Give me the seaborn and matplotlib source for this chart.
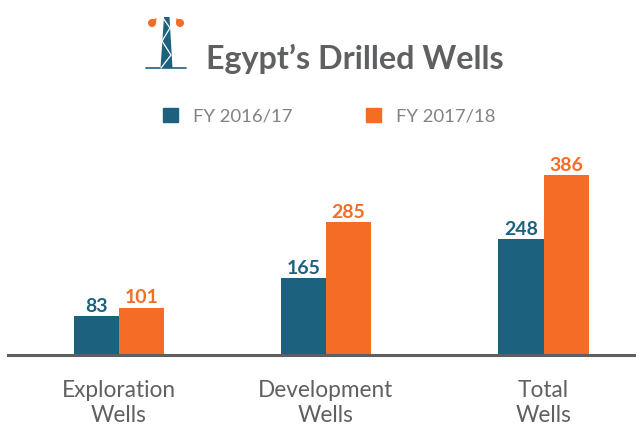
import numpy as np
import pandas as pd
import matplotlib
matplotlib.use("Agg")
import matplotlib.pyplot as plt
import matplotlib.patches as patches
from matplotlib.lines import Line2D
import seaborn as sns

categories = ["Exploration\nWells", "Development\nWells", "Total\nWells"]
years = ["FY 2016/17", "FY 2017/18"]
fy1617 = [83, 165, 248]
fy1718 = [101, 285, 386]

BLUE = "#1c617e"
ORANGE = "#f56c26"
GREY = "#5f6062"
W, H = 636, 425

sns.set_style("white")
plt.rcParams['font.family'] = ['Lato', 'DejaVu Sans']

df = pd.DataFrame({
    "category": categories * 2,
    "year": [years[0]] * 3 + [years[1]] * 3,
    "wells": fy1617 + fy1718,
})

# group centres in picture pixels, the groups are not evenly spaced
centers = dict(zip(categories, [119, 326, 543.5]))
df["pos"] = df["category"].map(centers)

fig = plt.figure(figsize=(W / 100, H / 100), dpi=100, facecolor="white")
ax = fig.add_axes([8 / W, (H - 355) / H, (W - 8) / W, 355 / H])

# width is relative to the smallest gap between groups (207 px)
sns.barplot(data=df, x="pos", y="wells", hue="year", native_scale=True,
            palette=[BLUE, ORANGE], width=90.5 / 207, gap=0, saturation=1,
            linewidth=0, legend=False, ax=ax)
ax.set_xlim(8, W)
ax.set_ylim(0, 355 / 0.4665)
ax.set_xlabel("")
ax.set_ylabel("")
ax.set_yticks([])
ax.set_xticks(list(centers.values()))
ax.set_xticklabels(categories, fontsize=16.3, color=GREY, linespacing=1.24)
ax.tick_params(axis="x", length=0, pad=18)
sns.despine(ax=ax, left=True)
ax.spines["bottom"].set_color("#5f5f5f")
ax.spines["bottom"].set_linewidth(2.2)

for container, color in zip(ax.containers, [BLUE, ORANGE]):
    ax.bar_label(container, color=color, fontsize=14, fontweight="bold", padding=1)

# title
fig.text(206 / W, 1 - 69 / H, "Egypt\u2019s Drilled Wells", fontsize=23.2,
         fontweight="bold", color=GREY, ha="left", va="baseline")

# legend
handles = [patches.Patch(color=BLUE), patches.Patch(color=ORANGE)]
fig.legend(handles, years, loc="center left", bbox_to_anchor=(157.5 / W, 1 - 116 / H),
           ncols=2, frameon=False, fontsize=13.3, labelcolor="#808285",
           handlelength=0.81, handleheight=0.81, handletextpad=0.81, columnspacing=4.0,
           borderpad=0.3, borderaxespad=0)

# oil rig icon, drawn in pixels
px = fig.dpi_scale_trans.__class__().scale(1 / W, -1 / H).translate(0, 1) + fig.transFigure
fig.add_artist(patches.Polygon([(164, 17), (169.5, 17), (172.5, 68), (160.5, 68)],
                               closed=True, fc=BLUE, ec="none", transform=px))
fig.add_artist(Line2D([146, 186], [68, 68], color=BLUE, lw=1.2, transform=px))
fig.add_artist(Line2D([163, 170, 162, 171, 161], [18, 28, 41, 55, 68], color="white",
                      lw=0.9, transform=px))
for cx, tip in [(152, 156.5), (180, 176.5)]:
    fig.add_artist(patches.Ellipse((cx, 23), 8, 8, fc=ORANGE, ec="none", transform=px))
    fig.add_artist(patches.Polygon([(cx - 4, 22), (tip, 18), (cx + 4, 23)], closed=True,
                                   fc=ORANGE, ec="none", transform=px))

fig.savefig("out.png", dpi=100)
